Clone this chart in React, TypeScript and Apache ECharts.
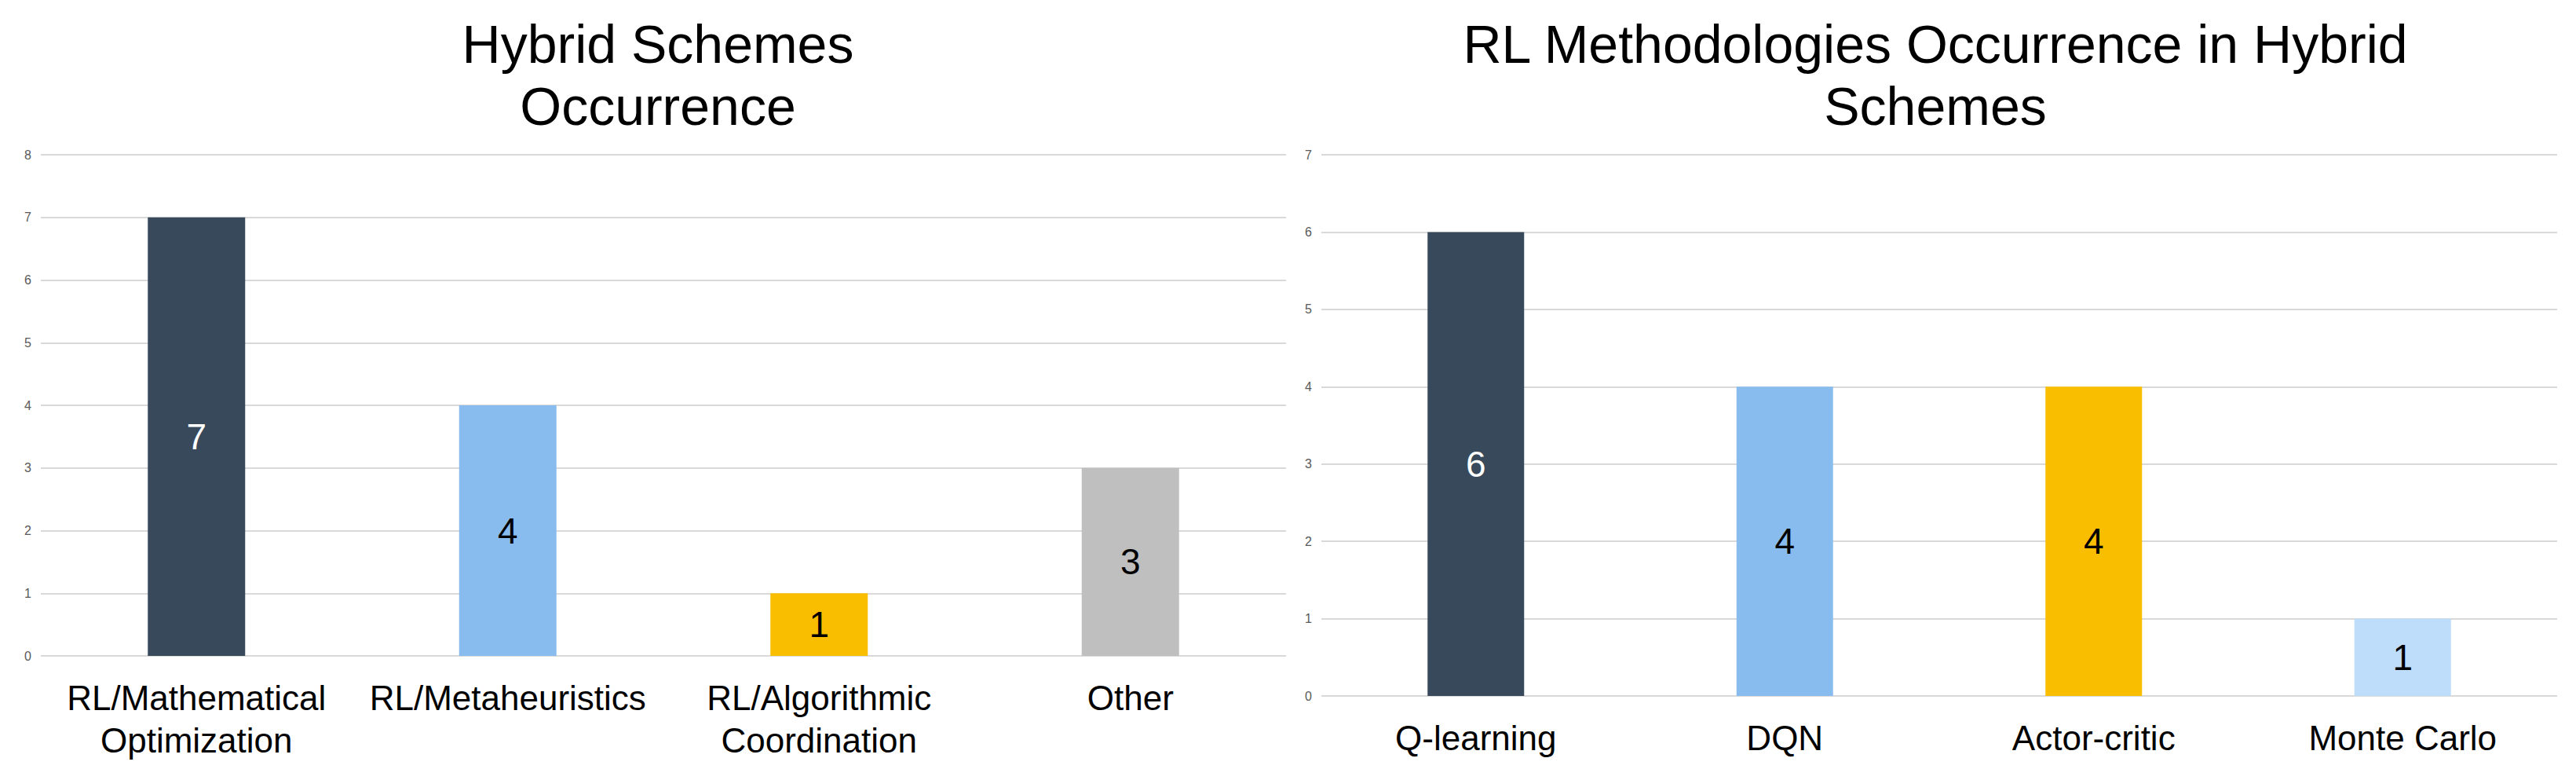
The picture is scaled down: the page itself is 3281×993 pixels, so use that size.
import React, { useEffect, useRef } from "react";
import * as echarts from "echarts";

// ---- data ----
const hybridCategories = [
  "RL/Mathematical\nOptimization",
  "RL/Metaheuristics",
  "RL/Algorithmic\nCoordination",
  "Other",
];
const hybridCounts = [7, 4, 1, 3];
const hybridAxisMax = 8;

const methodCategories = ["Q-learning", "DQN", "Actor-critic", "Monte Carlo"];
const methodCounts = [6, 4, 4, 1];
const methodAxisMax = 7;

const leftTitle = "Hybrid Schemes\nOccurrence";
const rightTitle = "RL Methodologies Occurrence in Hybrid\nSchemes";

// ---- styles ----
const hybridColors = ["#37495A", "#89BCEE", "#F9BE00", "#BFBFBF"];
const hybridLabelColors = ["#FFFFFF", "#000000", "#000000", "#000000"];
const methodColors = ["#37495A", "#89BCEE", "#F9BE00", "#BEDDFA"];
const methodLabelColors = ["#FFFFFF", "#000000", "#000000", "#000000"];

const FONT = "'Liberation Sans', Arial, sans-serif";

function buildItems(values: number[], colors: string[], labelColors: string[]) {
  return values.map((v, i) => ({
    value: v,
    itemStyle: { color: colors[i] },
    label: { color: labelColors[i] },
  }));
}

export default function App() {
  const ref = useRef<HTMLDivElement>(null);

  useEffect(() => {
    if (!ref.current) return;
    const chart = echarts.init(ref.current, null, { renderer: "svg" });

    const yAxisCommon = {
      type: "value" as const,
      min: 0,
      interval: 1,
      axisLine: { show: false },
      axisTick: { show: false },
      axisLabel: {
        fontSize: 16,
        color: "#595959",
        fontFamily: FONT,
        margin: 12,
      },
      splitLine: { lineStyle: { color: "#D9D9D9", width: 2 } },
    };

    const xAxisCommon = {
      type: "category" as const,
      axisLine: { show: false },
      axisTick: { show: false },
      axisLabel: {
        fontSize: 44,
        lineHeight: 54,
        color: "#000000",
        fontFamily: FONT,
        margin: 26,
        interval: 0,
      },
    };

    const seriesLabel = {
      show: true,
      position: "inside" as const,
      fontSize: 46,
      fontFamily: FONT,
    };

    chart.setOption({
      animation: false,
      backgroundColor: "#FFFFFF",
      title: [
        {
          text: leftTitle,
          left: 838,
          top: 16,
          padding: 0,
          textAlign: "center",
          textStyle: {
            fontSize: 68,
            lineHeight: 79,
            fontWeight: "normal",
            color: "#000000",
            fontFamily: FONT,
          },
        },
        {
          text: rightTitle,
          left: 2465,
          top: 16,
          padding: 0,
          textAlign: "center",
          textStyle: {
            fontSize: 68,
            lineHeight: 79,
            fontWeight: "normal",
            color: "#000000",
            fontFamily: FONT,
          },
        },
      ],
      grid: [
        { left: 52, top: 197, width: 1586, height: 638, containLabel: false },
        { left: 1683, top: 197, width: 1574, height: 689, containLabel: false },
      ],
      xAxis: [
        { ...xAxisCommon, gridIndex: 0, data: hybridCategories },
        { ...xAxisCommon, gridIndex: 1, data: methodCategories },
      ],
      yAxis: [
        { ...yAxisCommon, gridIndex: 0, max: hybridAxisMax },
        { ...yAxisCommon, gridIndex: 1, max: methodAxisMax },
      ],
      series: [
        {
          type: "bar",
          xAxisIndex: 0,
          yAxisIndex: 0,
          barWidth: 124,
          label: seriesLabel,
          data: buildItems(hybridCounts, hybridColors, hybridLabelColors),
        },
        {
          type: "bar",
          xAxisIndex: 1,
          yAxisIndex: 1,
          barWidth: 123,
          label: seriesLabel,
          data: buildItems(methodCounts, methodColors, methodLabelColors),
        },
      ],
    });

    return () => {
      chart.dispose();
    };
  }, []);

  return (
    <div
      ref={ref}
      style={{
        position: "fixed",
        left: 0,
        top: 0,
        width: "3281px",
        height: "993px",
        background: "#FFFFFF",
      }}
    />
  );
}
